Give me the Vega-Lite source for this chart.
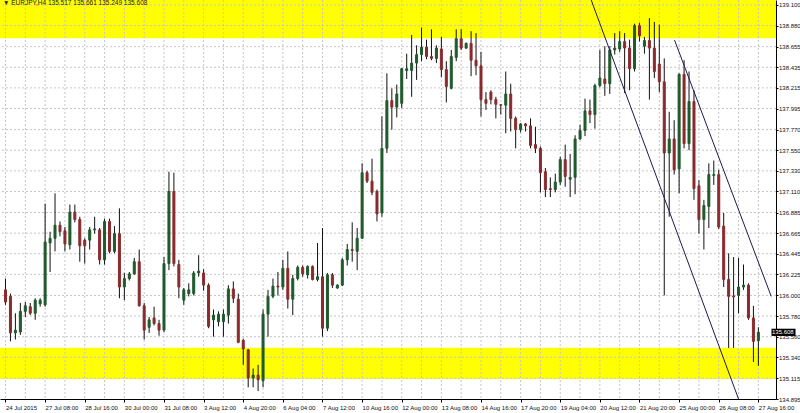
{
  "$schema": "https://vega.github.io/schema/vega-lite/v6.json",
  "width": 776,
  "height": 399,
  "autosize": {"type": "none"},
  "padding": {"left": 0, "top": 0, "right": 24, "bottom": 14},
  "background": "white",
  "config": {"view": {"stroke": null}, "font": "Liberation Sans", "axis": {"labelOverlap": false, "labelFlush": false, "labelFontSize": 6, "labelColor": "#111111", "tickColor": "#000000", "domainColor": "#000000", "grid": false, "title": null}},
  "title": {"text": "▼ EURJPY,H4  135.517 135.661 135.249 135.608", "orient": "top", "anchor": "start", "frame": "group", "offset": -10, "baseline": "middle", "fontSize": 6.5, "fontWeight": "normal", "color": "#222222", "dx": 3},
  "datasets": {
    "candles": [
      {"n":0,"o":136.06,"h":136.18,"l":135.90,"c":135.93},
      {"n":1,"o":135.99,"h":136.02,"l":135.51,"c":135.60},
      {"n":2,"o":135.60,"h":135.81,"l":135.53,"c":135.63},
      {"n":3,"o":135.61,"h":135.92,"l":135.58,"c":135.83},
      {"n":4,"o":135.83,"h":135.93,"l":135.77,"c":135.89},
      {"n":5,"o":135.88,"h":135.92,"l":135.79,"c":135.81},
      {"n":6,"o":135.81,"h":135.97,"l":135.74,"c":135.95},
      {"n":7,"o":135.91,"h":135.97,"l":135.88,"c":135.95},
      {"n":8,"o":135.90,"h":136.98,"l":135.88,"c":136.57},
      {"n":9,"o":136.56,"h":136.68,"l":136.25,"c":136.61},
      {"n":10,"o":136.61,"h":137.09,"l":136.47,"c":136.75},
      {"n":11,"o":136.75,"h":136.79,"l":136.63,"c":136.68},
      {"n":12,"o":136.69,"h":136.73,"l":136.47,"c":136.55},
      {"n":13,"o":136.54,"h":136.97,"l":136.49,"c":136.89},
      {"n":14,"o":136.89,"h":136.97,"l":136.78,"c":136.81},
      {"n":15,"o":136.81,"h":136.84,"l":136.36,"c":136.53},
      {"n":16,"o":136.59,"h":136.61,"l":136.34,"c":136.53},
      {"n":17,"o":136.59,"h":136.73,"l":136.49,"c":136.70},
      {"n":18,"o":136.70,"h":136.84,"l":136.66,"c":136.71},
      {"n":19,"o":136.70,"h":136.72,"l":136.33,"c":136.38},
      {"n":20,"o":136.38,"h":136.82,"l":136.33,"c":136.79},
      {"n":21,"o":136.79,"h":136.82,"l":136.45,"c":136.47},
      {"n":22,"o":136.47,"h":136.74,"l":136.45,"c":136.66},
      {"n":23,"o":136.66,"h":136.93,"l":135.97,"c":136.09},
      {"n":24,"o":136.09,"h":136.24,"l":135.95,"c":136.18},
      {"n":25,"o":136.18,"h":136.25,"l":136.16,"c":136.23},
      {"n":26,"o":136.23,"h":136.40,"l":136.22,"c":136.36},
      {"n":27,"o":136.36,"h":136.49,"l":135.88,"c":135.89},
      {"n":28,"o":135.89,"h":135.92,"l":135.53,"c":135.63},
      {"n":29,"o":135.66,"h":135.77,"l":135.60,"c":135.74},
      {"n":30,"o":135.76,"h":135.88,"l":135.68,"c":135.70},
      {"n":31,"o":135.70,"h":135.74,"l":135.57,"c":135.63},
      {"n":32,"o":135.63,"h":136.41,"l":135.61,"c":136.34},
      {"n":33,"o":136.34,"h":137.32,"l":136.27,"c":137.11},
      {"n":34,"o":137.11,"h":137.31,"l":136.31,"c":136.34},
      {"n":35,"o":136.33,"h":136.38,"l":135.97,"c":136.09},
      {"n":36,"o":135.95,"h":136.08,"l":135.90,"c":136.06},
      {"n":37,"o":136.02,"h":136.13,"l":135.99,"c":136.06},
      {"n":38,"o":136.02,"h":136.26,"l":136.00,"c":136.24},
      {"n":39,"o":136.24,"h":136.43,"l":136.20,"c":136.26},
      {"n":40,"o":136.24,"h":136.28,"l":136.05,"c":136.11},
      {"n":41,"o":136.11,"h":136.13,"l":135.65,"c":135.67},
      {"n":42,"o":135.74,"h":135.85,"l":135.56,"c":135.79},
      {"n":43,"o":135.72,"h":135.83,"l":135.67,"c":135.80},
      {"n":44,"o":135.72,"h":135.85,"l":135.56,"c":135.80},
      {"n":45,"o":135.79,"h":136.11,"l":135.70,"c":136.07},
      {"n":46,"o":136.07,"h":136.15,"l":135.92,"c":135.97},
      {"n":47,"o":135.96,"h":136.02,"l":135.49,"c":135.50},
      {"n":48,"o":135.52,"h":135.54,"l":135.26,"c":135.43},
      {"n":49,"o":135.42,"h":135.43,"l":135.02,"c":135.12},
      {"n":50,"o":135.12,"h":135.22,"l":135.02,"c":135.15},
      {"n":51,"o":135.15,"h":135.26,"l":134.98,"c":135.10},
      {"n":52,"o":135.09,"h":135.85,"l":135.02,"c":135.80},
      {"n":53,"o":135.80,"h":136.06,"l":135.56,"c":135.99},
      {"n":54,"o":135.99,"h":136.18,"l":135.97,"c":136.10},
      {"n":55,"o":136.10,"h":136.25,"l":136.00,"c":136.09},
      {"n":56,"o":136.09,"h":136.38,"l":136.06,"c":136.29},
      {"n":57,"o":136.29,"h":136.47,"l":135.86,"c":135.96},
      {"n":58,"o":135.96,"h":136.22,"l":135.79,"c":136.18},
      {"n":59,"o":136.18,"h":136.32,"l":136.16,"c":136.30},
      {"n":60,"o":136.30,"h":136.32,"l":136.20,"c":136.23},
      {"n":61,"o":136.22,"h":136.32,"l":136.18,"c":136.31},
      {"n":62,"o":136.31,"h":136.32,"l":136.16,"c":136.17},
      {"n":63,"o":136.17,"h":136.56,"l":136.15,"c":136.20},
      {"n":64,"o":136.20,"h":136.72,"l":135.56,"c":135.65},
      {"n":65,"o":135.65,"h":136.24,"l":135.62,"c":136.22},
      {"n":66,"o":136.22,"h":136.24,"l":136.08,"c":136.11},
      {"n":67,"o":136.08,"h":136.12,"l":136.07,"c":136.11},
      {"n":68,"o":136.11,"h":136.40,"l":136.10,"c":136.38},
      {"n":69,"o":136.38,"h":136.55,"l":136.32,"c":136.49},
      {"n":70,"o":136.49,"h":136.78,"l":136.36,"c":136.48},
      {"n":71,"o":136.47,"h":136.72,"l":136.27,"c":136.61},
      {"n":72,"o":136.61,"h":137.41,"l":136.61,"c":137.31},
      {"n":73,"o":137.31,"h":137.33,"l":137.20,"c":137.22},
      {"n":74,"o":137.22,"h":137.46,"l":137.07,"c":137.10},
      {"n":75,"o":137.11,"h":137.13,"l":136.79,"c":136.87},
      {"n":76,"o":136.88,"h":137.91,"l":136.84,"c":137.57},
      {"n":77,"o":137.57,"h":138.37,"l":137.52,"c":138.08},
      {"n":78,"o":138.08,"h":138.21,"l":137.77,"c":138.01},
      {"n":79,"o":138.01,"h":138.25,"l":137.90,"c":138.15},
      {"n":80,"o":138.05,"h":138.43,"l":138.00,"c":138.42},
      {"n":81,"o":138.40,"h":138.58,"l":138.31,"c":138.42},
      {"n":82,"o":138.40,"h":138.78,"l":138.12,"c":138.48},
      {"n":83,"o":138.48,"h":138.67,"l":138.30,"c":138.57},
      {"n":84,"o":138.57,"h":138.86,"l":138.50,"c":138.65},
      {"n":85,"o":138.65,"h":138.73,"l":138.52,"c":138.55},
      {"n":86,"o":138.55,"h":138.84,"l":138.51,"c":138.53},
      {"n":87,"o":138.53,"h":138.67,"l":138.48,"c":138.64},
      {"n":88,"o":138.63,"h":138.76,"l":138.33,"c":138.41},
      {"n":89,"o":138.41,"h":138.50,"l":138.06,"c":138.23},
      {"n":90,"o":138.21,"h":138.62,"l":138.20,"c":138.55},
      {"n":91,"o":138.54,"h":138.84,"l":138.50,"c":138.74},
      {"n":92,"o":138.74,"h":138.84,"l":138.62,"c":138.64},
      {"n":93,"o":138.64,"h":138.70,"l":138.63,"c":138.69},
      {"n":94,"o":138.69,"h":138.82,"l":138.34,"c":138.51},
      {"n":95,"o":138.51,"h":138.80,"l":138.35,"c":138.45},
      {"n":96,"o":138.45,"h":138.60,"l":137.91,"c":138.09},
      {"n":97,"o":138.09,"h":138.17,"l":137.98,"c":138.05},
      {"n":98,"o":138.17,"h":138.19,"l":138.04,"c":138.09},
      {"n":99,"o":138.09,"h":138.12,"l":137.89,"c":138.04},
      {"n":100,"o":138.035,"h":138.04,"l":137.93,"c":138.03},
      {"n":101,"o":138.03,"h":138.39,"l":137.73,"c":138.15},
      {"n":102,"o":138.15,"h":138.26,"l":137.75,"c":137.89},
      {"n":103,"o":137.89,"h":137.91,"l":137.57,"c":137.77},
      {"n":104,"o":137.77,"h":137.84,"l":137.74,"c":137.83},
      {"n":105,"o":137.83,"h":137.84,"l":137.75,"c":137.81},
      {"n":106,"o":137.81,"h":137.89,"l":137.57,"c":137.60},
      {"n":107,"o":137.61,"h":137.80,"l":137.52,"c":137.57},
      {"n":108,"o":137.57,"h":137.59,"l":137.10,"c":137.31},
      {"n":109,"o":137.32,"h":137.36,"l":137.05,"c":137.13},
      {"n":110,"o":137.14,"h":137.26,"l":137.05,"c":137.13},
      {"n":111,"o":137.13,"h":137.30,"l":137.10,"c":137.21},
      {"n":112,"o":137.21,"h":137.48,"l":137.18,"c":137.45},
      {"n":113,"o":137.45,"h":137.61,"l":137.16,"c":137.27},
      {"n":114,"o":137.24,"h":137.51,"l":137.05,"c":137.26},
      {"n":115,"o":137.26,"h":137.71,"l":137.08,"c":137.67},
      {"n":116,"o":137.67,"h":137.82,"l":137.66,"c":137.76},
      {"n":117,"o":137.76,"h":138.10,"l":137.70,"c":137.97},
      {"n":118,"o":137.97,"h":138.09,"l":137.84,"c":137.93},
      {"n":119,"o":137.93,"h":138.26,"l":137.78,"c":138.24},
      {"n":120,"o":138.24,"h":138.62,"l":138.22,"c":138.32},
      {"n":121,"o":138.31,"h":138.66,"l":138.13,"c":138.26},
      {"n":122,"o":138.26,"h":138.66,"l":138.15,"c":138.62},
      {"n":123,"o":138.62,"h":138.80,"l":138.57,"c":138.64},
      {"n":124,"o":138.63,"h":138.82,"l":138.60,"c":138.71},
      {"n":125,"o":138.71,"h":138.80,"l":138.16,"c":138.64},
      {"n":126,"o":138.64,"h":138.73,"l":138.19,"c":138.42},
      {"n":127,"o":138.42,"h":138.90,"l":138.39,"c":138.88},
      {"n":128,"o":138.88,"h":138.91,"l":138.71,"c":138.77},
      {"n":129,"o":138.66,"h":138.76,"l":138.58,"c":138.72},
      {"n":130,"o":138.72,"h":138.96,"l":138.09,"c":138.64},
      {"n":131,"o":138.64,"h":138.92,"l":138.32,"c":138.39},
      {"n":132,"o":138.47,"h":138.89,"l":138.17,"c":138.28},
      {"n":133,"o":138.28,"h":138.53,"l":136.00,"c":137.52},
      {"n":134,"o":137.52,"h":137.96,"l":136.84,"c":137.67},
      {"n":135,"o":137.67,"h":137.87,"l":137.29,"c":137.34},
      {"n":136,"o":137.35,"h":138.37,"l":137.09,"c":138.36},
      {"n":137,"o":138.36,"h":138.51,"l":137.57,"c":137.62},
      {"n":138,"o":137.62,"h":138.39,"l":137.55,"c":138.07},
      {"n":139,"o":138.07,"h":138.19,"l":137.02,"c":137.14},
      {"n":140,"o":137.17,"h":137.23,"l":136.66,"c":136.81},
      {"n":141,"o":136.81,"h":137.02,"l":136.49,"c":136.96},
      {"n":142,"o":136.95,"h":137.41,"l":136.72,"c":137.29},
      {"n":143,"o":137.28,"h":137.44,"l":137.18,"c":137.29},
      {"n":144,"o":137.29,"h":137.34,"l":136.71,"c":136.73},
      {"n":145,"o":136.74,"h":136.88,"l":136.09,"c":136.17},
      {"n":146,"o":136.17,"h":136.45,"l":135.44,"c":135.99},
      {"n":147,"o":135.995,"h":136.41,"l":135.44,"c":135.985},
      {"n":148,"o":136.00,"h":136.40,"l":135.81,"c":136.09},
      {"n":149,"o":136.09,"h":136.33,"l":136.06,"c":136.11},
      {"n":150,"o":136.11,"h":136.13,"l":135.74,"c":135.76},
      {"n":151,"o":135.76,"h":135.89,"l":135.29,"c":135.51},
      {"n":152,"o":135.517,"h":135.661,"l":135.249,"c":135.608}
    ],
    "bands": [{"y1": 138.745, "y2": 139.2}, {"y1": 135.109, "y2": 135.443}],
    "hgrid": [{"p":139.1},{"p":138.88},{"p":138.655},{"p":138.435},{"p":138.215},{"p":137.995},{"p":137.77},{"p":137.55},{"p":137.33},{"p":137.11},{"p":136.885},{"p":136.665},{"p":136.445},{"p":136.225},{"p":136.0},{"p":135.78},{"p":135.56},{"p":135.34},{"p":135.115}],
    "vgrid": [{"n":0},{"n":4},{"n":8},{"n":12},{"n":16},{"n":20},{"n":24},{"n":28},{"n":32},{"n":36},{"n":40},{"n":44},{"n":48},{"n":52},{"n":56},{"n":60},{"n":64},{"n":68},{"n":72},{"n":76},{"n":80},{"n":84},{"n":88},{"n":92},{"n":96},{"n":100},{"n":104},{"n":108},{"n":112},{"n":116},{"n":120},{"n":124},{"n":128},{"n":132},{"n":136},{"n":140},{"n":144},{"n":148},{"n":152}],
    "trend": [
      {"line":"A","n":118.2,"p":139.16},{"line":"A","n":148.1,"p":134.88},
      {"line":"B","n":135.07,"p":138.726},{"line":"B","n":154.6,"p":135.99}
    ],
    "last": [{"p": 135.608, "label": "135.608"}]
  },
  "layer": [
    {
      "data": {"name": "bands"},
      "mark": {"type": "rect", "color": "#ffff00", "clip": true},
      "encoding": {
        "y": {"field": "y1", "type": "quantitative", "scale": {"domain": [134.895, 139.153], "nice": false, "zero": false},
          "axis": {"orient": "right", "title": null, "values": [139.1,138.88,138.655,138.435,138.215,137.995,137.77,137.55,137.33,137.11,136.885,136.665,136.445,136.225,136.0,135.78,135.56,135.34,135.115,134.895],
            "tickCount": 40, "format": ".3f", "labelPadding": 0.5, "labelOverlap": false, "labelFlush": false, "tickSize": 2}},
        "y2": {"field": "y2"}
      }
    },
    {
      "data": {"name": "hgrid"},
      "mark": {"type": "rule", "color": "#c6c6c6", "strokeDash": [2, 2], "strokeWidth": 1},
      "encoding": {
        "y": {"field": "p", "type": "quantitative", "scale": {"domain": [134.895, 139.153], "nice": false, "zero": false}}
      }
    },
    {
      "data": {"name": "vgrid"},
      "mark": {"type": "rule", "color": "#c6c6c6", "strokeDash": [2, 2], "strokeWidth": 1},
      "encoding": {
        "x": {"field": "n", "type": "quantitative", "scale": {"domain": [-0.1, 154.55], "nice": false, "zero": false},
          "axis": {"orient": "bottom", "title": null, "values": [0,8,16,24,32,40,48,56,64,72,80,88,96,104,112,120,128,136,144,152],
            "tickCount": 40,
            "labelExpr": "['24 Jul 2015','27 Jul 08:00','28 Jul 16:00','30 Jul 00:00','31 Jul 08:00','3 Aug 12:00','4 Aug 20:00','6 Aug 04:00','7 Aug 12:00','10 Aug 16:00','12 Aug 00:00','13 Aug 08:00','14 Aug 16:00','17 Aug 20:00','19 Aug 04:00','20 Aug 12:00','21 Aug 20:00','25 Aug 00:00','26 Aug 08:00','27 Aug 16:00'][round(datum.value/8)]",
            "labelAlign": "left", "labelBaseline": "top", "labelPadding": 2, "labelFlush": false, "labelOverlap": false, "tickSize": 3}}
      }
    },
    {
      "data": {"name": "candles"},
      "mark": {"type": "rule", "color": "#111111", "strokeWidth": 1},
      "encoding": {
        "x": {"field": "n", "type": "quantitative", "scale": {"domain": [-0.1, 154.55], "nice": false, "zero": false}},
        "y": {"field": "l", "type": "quantitative", "scale": {"domain": [134.895, 139.153], "nice": false, "zero": false}},
        "y2": {"field": "h"}
      }
    },
    {
      "data": {"name": "candles"},
      "mark": {"type": "bar", "size": 2, "strokeWidth": 1},
      "encoding": {
        "x": {"field": "n", "type": "quantitative", "scale": {"domain": [-0.1, 154.55], "nice": false, "zero": false}},
        "y": {"field": "o", "type": "quantitative", "scale": {"domain": [134.895, 139.153], "nice": false, "zero": false}},
        "y2": {"field": "c"},
        "fill": {"condition": {"test": "datum.c >= datum.o", "value": "#1f5a2c"}, "value": "#8b2a2d"},
        "stroke": {"condition": {"test": "datum.c >= datum.o", "value": "#1f5a2c"}, "value": "#8b2a2d"}
      }
    },
    {
      "data": {"name": "trend"},
      "mark": {"type": "line", "color": "#1c1c50", "strokeWidth": 1, "clip": true},
      "encoding": {
        "x": {"field": "n", "type": "quantitative", "scale": {"domain": [-0.1, 154.55], "nice": false, "zero": false}},
        "y": {"field": "p", "type": "quantitative", "scale": {"domain": [134.895, 139.153], "nice": false, "zero": false}},
        "detail": {"field": "line"}
      }
    },
    {
      "data": {"name": "last"},
      "mark": {"type": "rect", "color": "#000000"},
      "encoding": {
        "x": {"datum": 154.65, "type": "quantitative", "scale": {"domain": [-0.1, 154.55], "nice": false, "zero": false}},
        "x2": {"datum": 159.5},
        "y": {"datum": 135.645, "type": "quantitative", "scale": {"domain": [134.895, 139.153], "nice": false, "zero": false}},
        "y2": {"datum": 135.568}
      }
    },
    {
      "data": {"name": "last"},
      "mark": {"type": "text", "color": "#ffffff", "align": "left", "baseline": "middle", "fontSize": 6, "dx": 0.5},
      "encoding": {
        "x": {"datum": 154.65, "type": "quantitative", "scale": {"domain": [-0.1, 154.55], "nice": false, "zero": false}},
        "y": {"field": "p", "type": "quantitative", "scale": {"domain": [134.895, 139.153], "nice": false, "zero": false}},
        "text": {"field": "label"}
      }
    }
  ]
}
